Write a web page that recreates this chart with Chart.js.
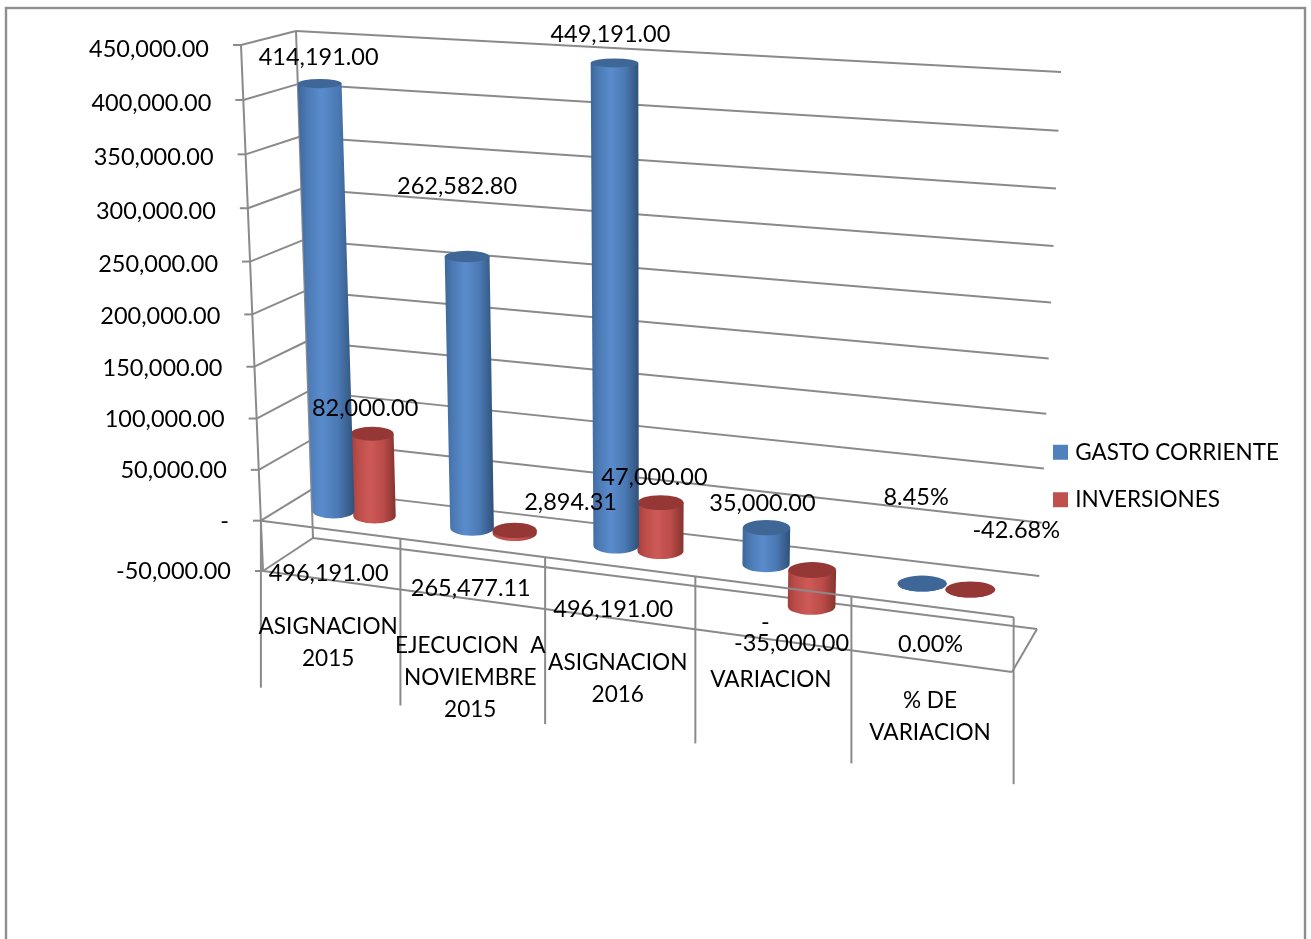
<!DOCTYPE html>
<html>
<head>
<meta charset="utf-8">
<script src="https://cdn.jsdelivr.net/npm/chart.js@4"></script>
<style>
body { margin: 0; background: #fff; }
canvas { display: block; }
</style>
</head>
<body>
<canvas id="myChart" width="1311" height="939"></canvas>
<script>
const categories = [
    ['ASIGNACION', '2015'],
    ['EJECUCION  A', 'NOVIEMBRE', '2015'],
    ['ASIGNACION', '2016'],
    ['VARIACION'],
    ['% DE', 'VARIACION']
];
const gastoCorriente = [414191, 262582.8, 449191, 35000, 0.0845];
const inversiones = [82000, 2894.31, 47000, -35000, -0.4268];
const totales = [496191, 265477.11, 496191, 0, 0];
const yTicks = [450000, 400000, 350000, 300000, 250000, 200000, 150000, 100000, 50000, 0, -50000];

// where the labels sit relative to the end of their bar (Excel moved them by hand)
const gastoLabelShift = [[-1, -26], [-10, -70], [-4, -28], [-4, -24], [-6, -86]];
const inversionLabelShift = [[-7, -25], [56, -28], [-6, -25], [-20, 37], [46, -59]];
const totalLabelShift = [[-2, 44], [-2, 41], [-7, 43], [-8, 36], [-2, 38]];
const categoryLabelDrop = [97, 98, 96, 93, 94];

const GRID = '#8a8a8a';
const FONT = '23.5px Lato';
const CAT_FONT = '22.6px Lato';

// corners of the planes in the picture: top left, top right, bottom right, bottom left
function makeProjection(q) {
    const [p0, p1, p2, p3] = q;
    const dx1 = p1[0] - p2[0], dx2 = p3[0] - p2[0], sx = p0[0] - p1[0] + p2[0] - p3[0];
    const dy1 = p1[1] - p2[1], dy2 = p3[1] - p2[1], sy = p0[1] - p1[1] + p2[1] - p3[1];
    const den = dx1 * dy2 - dx2 * dy1;
    const g = (sx * dy2 - dx2 * sy) / den;
    const h = (dx1 * sy - sx * dy1) / den;
    const a = p1[0] - p0[0] + g * p1[0], b = p3[0] - p0[0] + h * p3[0];
    const d = p1[1] - p0[1] + g * p1[1], e = p3[1] - p0[1] + h * p3[1];
    return (u, v) => {
        const w = g * u + h * v + 1;
        return [(a * u + b * v + p0[0]) / w, (d * u + e * v + p0[1]) / w];
    };
}
const backWall = makeProjection([[296, 31], [1061, 72], [1037, 629], [313, 538]]);
const frontWall = makeProjection([[241, 45], [1029, 97], [1012, 672], [263, 571]]);
const barPlane = makeProjection([[269, 42], [1047, 87], [1025, 650], [288, 554]]);

function toUnit(chart, px, py) {
    const area = chart.chartArea;
    return [(px - area.left) / (area.right - area.left), (py - area.top) / (area.bottom - area.top)];
}

function line(ctx, a, b) {
    ctx.beginPath();
    ctx.moveTo(a[0], a[1]);
    ctx.lineTo(b[0], b[1]);
    ctx.stroke();
}

function text(ctx, str, x, y, align, font) {
    ctx.fillStyle = '#000';
    ctx.font = font || FONT;
    ctx.textAlign = align || 'center';
    ctx.textBaseline = 'middle';
    ctx.fillText(str, x, y);
}

function cylinder(ctx, chart, el, colors) {
    const top = Math.min(el.y, el.base), bottom = Math.max(el.y, el.base);
    const left = el.x - el.width / 2, right = el.x + el.width / 2;
    const tl = barPlane(...toUnit(chart, left, top)), tr = barPlane(...toUnit(chart, right, top));
    const bl = barPlane(...toUnit(chart, left, bottom)), br = barPlane(...toUnit(chart, right, bottom));
    const flat = y => 4.5 + (y - 60) * 3.5 / 520;

    const topY = (tl[1] + tr[1]) / 2, botY = (bl[1] + br[1]) / 2;
    const grad = ctx.createLinearGradient(Math.min(tl[0], bl[0]), 0, Math.max(tr[0], br[0]), 0);
    grad.addColorStop(0, colors[0]);
    grad.addColorStop(0.15, colors[1]);
    grad.addColorStop(0.42, colors[2]);
    grad.addColorStop(0.72, colors[1]);
    grad.addColorStop(1, colors[3]);

    ctx.fillStyle = grad;
    ctx.beginPath();
    ctx.moveTo(tl[0], topY);
    ctx.lineTo(tr[0], topY);
    ctx.lineTo(br[0], botY);
    ctx.ellipse((bl[0] + br[0]) / 2, botY, (br[0] - bl[0]) / 2, flat(botY), 0, 0, Math.PI);
    ctx.lineTo(tl[0], topY);
    ctx.fill();

    ctx.fillStyle = colors[4];
    ctx.beginPath();
    ctx.ellipse((tl[0] + tr[0]) / 2, topY, (tr[0] - tl[0]) / 2, flat(topY), 0, 0, Math.PI * 2);
    ctx.fill();
}

const blueShades = ['#3d6799', '#4a78b2', '#5a8ccd', '#2f5179', '#3e6798'];
const redShades = ['#a03f3c', '#bb4c49', '#cd5a56', '#86332f', '#953735'];

function money(v) {
    return v.toLocaleString('en-US', {minimumFractionDigits: 2});
}

const perspective = {
    id: 'perspective',
    afterLayout(chart) {
        // the legend stands lower than the middle of the plot
        const legend = chart.legend;
        legend.left = 1032;
        legend.top = 416;
        legend.bottom = 620;
    },
    beforeDraw(chart) {
        const ctx = chart.ctx;
        ctx.save();
        ctx.fillStyle = '#fff';
        ctx.fillRect(0, 0, chart.width, chart.height);
        ctx.strokeStyle = '#8e8e8e';
        ctx.lineWidth = 2.4;
        ctx.strokeRect(6, 8, 1299, 950);
        ctx.restore();
    },
    beforeDatasetsDraw(chart) {
        const ctx = chart.ctx, y = chart.scales.y;
        ctx.save();
        ctx.strokeStyle = GRID;
        ctx.lineWidth = 2;
        yTicks.forEach(t => {
            const v = toUnit(chart, 0, y.getPixelForValue(t))[1];
            const f = frontWall(0, v), b = backWall(0, v), r = backWall(1, v);
            line(ctx, [f[0] - 8, f[1]], f);
            line(ctx, f, b);
            line(ctx, b, r);
            text(ctx, t === 0 ? '-' : money(t), f[0] - 32, f[1] + 4 * (1 - v), 'right');
        });
        line(ctx, frontWall(0, 0), frontWall(0, 1));
        line(ctx, backWall(0, 0), backWall(0, 1));
        line(ctx, frontWall(0, 1), frontWall(1, 1));
        line(ctx, frontWall(1, 1), backWall(1, 1));
        ctx.restore();
    },
    beforeDatasetDraw(chart, args) {
        const colors = args.index === 0 ? blueShades : redShades;
        chart.getDatasetMeta(args.index).data.forEach(el => cylinder(chart.ctx, chart, el, colors));
        return false;
    },
    afterDatasetsDraw(chart) {
        const ctx = chart.ctx, y = chart.scales.y;
        const zero = toUnit(chart, 0, y.getPixelForValue(0))[1];
        ctx.save();
        ctx.strokeStyle = GRID;
        ctx.lineWidth = 2;
        line(ctx, frontWall(0, zero), frontWall(1, zero));

        const n = categories.length;
        for (let i = 0; i <= n; i++) {
            const p = frontWall(i / n, zero);
            line(ctx, p, [p[0], p[1] + 167]);
        }
        categories.forEach((lines, i) => {
            const a = frontWall(i / n, zero), b = frontWall((i + 1) / n, zero);
            const cx = (a[0] + b[0]) / 2, cy = (a[1] + b[1]) / 2;
            lines.forEach((s, k) => text(ctx, s, cx - 2.5, cy + categoryLabelDrop[i] + k * 32, 'center', CAT_FONT));
            const total = i === n - 1 ? '0.00%' : (totales[i] === 0 ? '-' : money(totales[i]));
            text(ctx, total, cx + totalLabelShift[i][0], cy + totalLabelShift[i][1]);
        });

        [[gastoCorriente, gastoLabelShift], [inversiones, inversionLabelShift]].forEach(([values, shift], d) => {
            chart.getDatasetMeta(d).data.forEach((el, i) => {
                const p = barPlane(...toUnit(chart, el.x, el.y));
                const s = i === n - 1 ? (values[i] * 100).toFixed(2) + '%' : money(values[i]);
                text(ctx, s, p[0] + shift[i][0], p[1] + shift[i][1]);
            });
        });
        ctx.restore();
    }
};

const myChart = new Chart(document.getElementById('myChart'), {
    type: 'bar',
    data: {
        labels: categories,
        datasets: [
            { label: 'GASTO CORRIENTE', data: gastoCorriente, backgroundColor: '#4f81bd', borderColor: '#4f81bd', borderWidth: 8 },
            { label: 'INVERSIONES', data: inversiones, backgroundColor: '#c0504d', borderColor: '#c0504d', borderWidth: 8 }
        ]
    },
    options: {
        responsive: false,
        animation: false,
        categoryPercentage: 0.6,
        barPercentage: 1.03,
        layout: { padding: { left: 236, top: 49, bottom: 360, right: 10 } },
        scales: {
            x: { grid: { display: false }, border: { display: false }, ticks: { display: false } },
            y: {
                min: -50000,
                max: 450000,
                grid: { display: false },
                border: { display: false },
                ticks: { display: false, stepSize: 50000 }
            }
        },
        plugins: {
            tooltip: { enabled: false },
            legend: {
                position: 'right',
                align: 'start',
                labels: {
                    boxWidth: 7,
                    boxHeight: 7,
                    padding: 25,
                    color: '#000',
                    font: { family: 'Lato', size: 22.5 }
                }
            }
        }
    },
    plugins: [perspective]
});
</script>
</body>
</html>
